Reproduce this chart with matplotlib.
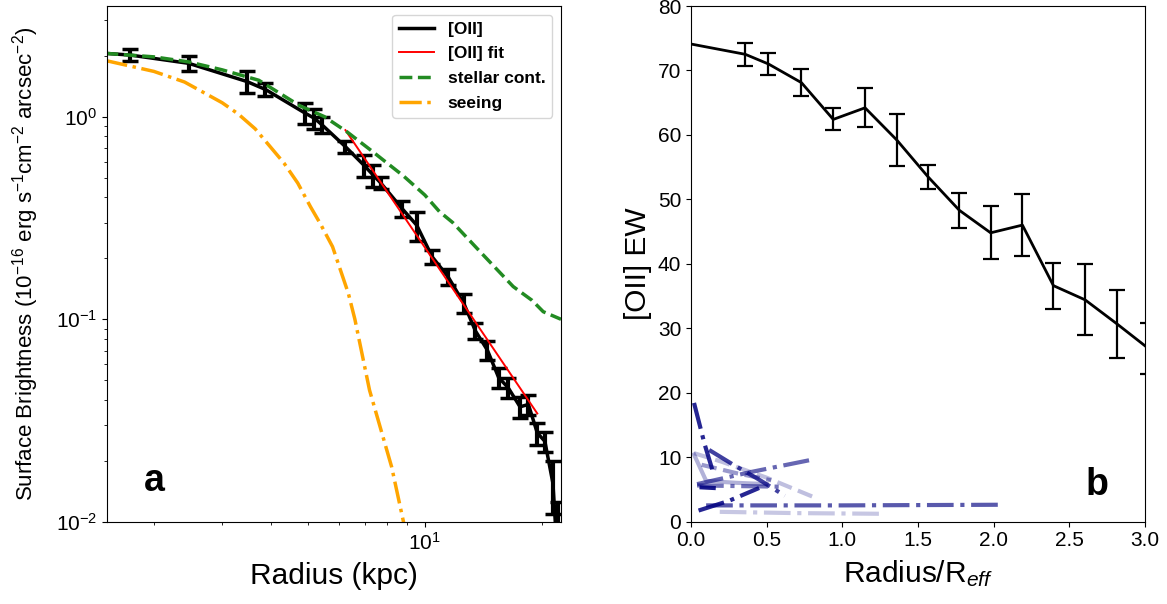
import matplotlib
matplotlib.use("Agg")
import matplotlib.pyplot as plt

plt.rcParams['font.family'] = ['Liberation Sans', 'DejaVu Sans']
plt.rcParams['mathtext.fontset'] = 'custom'
plt.rcParams['mathtext.rm'] = 'Liberation Sans'
plt.rcParams['mathtext.it'] = 'Liberation Sans:italic'
plt.rcParams['mathtext.bf'] = 'Liberation Sans:bold'

# ---------------- Panel a data ----------------
oii_r = [1.74, 2.46, 3.47, 3.88, 4.91, 5.19, 5.43, 6.24, 6.96, 7.36, 7.69, 8.73, 9.53,
         10.45, 11.48, 12.6, 13.5, 14.5, 15.5, 16.4, 17.6, 18.5, 19.5, 20.4, 21.4, 22.0]
oii_v = [2.01, 1.83, 1.49, 1.36, 1.04, 0.98, 0.91, 0.71, 0.576, 0.514, 0.471, 0.352, 0.291,
         0.203, 0.162, 0.120, 0.0877, 0.0704, 0.0516, 0.046, 0.037, 0.038, 0.0275, 0.025, 0.0155, 0.0065]
oii_err = [0.14, 0.15, 0.19, 0.10, 0.12, 0.11, 0.08, 0.05, 0.073, 0.065, 0.033, 0.032, 0.047,
           0.016, 0.015, 0.0125, 0.008, 0.0073, 0.0056, 0.0053, 0.0043, 0.0044, 0.0034, 0.0029, 0.0045, 0.006]
oii_line_r = [1.5] + oii_r
oii_line_v = [2.05] + oii_v

fit_r = [6.24, 19.5]
fit_v = [0.857, 0.0343]

stellar_r = [1.5, 2.0, 2.46, 3.0, 3.73, 4.76, 5.5, 6.3, 7.2, 8.8, 10.0, 10.9, 11.8, 13.9, 16.9, 18.9, 20.2, 22.45]
stellar_v = [2.05, 1.97, 1.86, 1.70, 1.51, 1.13, 1.0, 0.84, 0.69, 0.51, 0.41, 0.34, 0.30, 0.215, 0.145, 0.124, 0.109, 0.100]

seeing_r = [1.5, 2.0, 2.4, 3.0, 3.3, 3.65, 4.33, 4.7, 5.07, 5.37, 5.78, 6.35, 6.6, 7.2, 8.21, 8.81, 9.0]
seeing_v = [1.89, 1.67, 1.48, 1.17, 1.03, 0.87, 0.59, 0.47, 0.359, 0.297, 0.228, 0.134, 0.100, 0.0447, 0.0187, 0.0100, 0.008]

# ---------------- Panel b data ----------------
ew_r = [0.359, 0.512, 0.730, 0.940, 1.150, 1.360, 1.566, 1.773, 1.980, 2.190, 2.395, 2.604, 2.813, 3.02]
ew_v = [72.5, 71.0, 68.1, 62.4, 64.2, 59.2, 53.5, 48.3, 44.8, 46.0, 36.6, 34.4, 30.7, 26.9]
ew_err = [1.75, 1.7, 2.1, 1.7, 3.0, 4.1, 1.9, 2.7, 4.1, 4.8, 3.55, 5.5, 5.3, 3.95]
ew_line_r = [0.0] + ew_r
ew_line_v = [74.1] + ew_v

comp_r = [
    [0.02, 0.09, 0.14],
    [0.12, 0.28, 0.45, 0.62],
    [0.02, 0.2, 0.5, 0.83],
    [0.02, 0.1, 0.3, 0.5],
    [0.04, 0.4, 0.78],
    [0.05, 0.25, 0.45],
    [0.1, 1.0, 2.05],
    [0.19, 0.7, 1.25],
    [0.07, 0.15],
    [0.04, 0.3, 0.6],
    [0.07, 0.3, 0.53],
]
comp_v = [
    [18.4, 12.0, 8.1],
    [11.1, 8.8, 6.5, 4.0],
    [10.6, 9.3, 6.8, 3.6],
    [10.4, 6.3, 6.0, 5.8],
    [5.8, 7.7, 9.5],
    [1.7, 3.2, 5.2],
    [2.5, 2.5, 2.6],
    [1.5, 1.3, 1.2],
    [5.3, 5.2],
    [5.6, 5.5, 5.4],
    [8.8, 7.5, 6.4],
]
comp_alpha = [0.85, 0.75, 0.25, 0.3, 0.6, 0.85, 0.65, 0.22, 0.9, 0.55, 0.4]
comp_ls = ['-.', '-.', '--', '-', '-.', '-.', '-.', '-.', '-', '-.', '--']

W, H = 1167, 604
fig = plt.figure(figsize=(W / 100, H / 100), dpi=100)

# ---- panel a ----
ax1 = fig.add_axes([107 / W, (H - 522) / H, 454 / W, 516 / H])
ax1.plot(oii_line_r, oii_line_v, color='black', lw=2.5, label='[OII]')
ax1.errorbar(oii_r, oii_v, yerr=oii_err, fmt='none', ecolor='black',
             elinewidth=3, capsize=6, capthick=2.5)
ax1.plot(fit_r, fit_v, color='red', lw=1.4, label='[OII] fit')
ax1.plot(stellar_r, stellar_v, color='forestgreen', lw=2.5, ls='--', label='stellar cont.')
ax1.plot(seeing_r, seeing_v, color='orange', lw=2.5, ls='-.', label='seeing')
ax1.set_xscale('log')
ax1.set_yscale('log')
ax1.set_xlim(1.514, 22.45)
ax1.set_ylim(0.01, 3.51)
ax1.tick_params(labelsize=15)
ax1.set_xlabel('Radius (kpc)', fontsize=21.5, labelpad=6)
ax1.set_ylabel(r'Surface Brightness (10$^{-16}$ erg s$^{-1}$cm$^{-2}$ arcsec$^{-2}$)',
               fontsize=16, labelpad=11)
ax1.legend(loc='upper right', prop={'weight': 'bold', 'size': 12.5}, labelspacing=0.55)
ax1.text(0.105, 0.08, 'a', transform=ax1.transAxes, fontsize=27, fontweight='bold',
         ha='center', va='center')

# ---- panel b ----
ax2 = fig.add_axes([691 / W, (H - 521.5) / H, 454 / W, 515.5 / H])
for rr, vv, al, ls in zip(comp_r, comp_v, comp_alpha, comp_ls):
    ax2.plot(rr, vv, color='navy', alpha=al, ls=ls, lw=3)
ax2.plot(ew_line_r, ew_line_v, color='black', lw=2)
ax2.errorbar(ew_r, ew_v, yerr=ew_err, fmt='none', ecolor='black',
             elinewidth=1.6, capsize=6, capthick=1.6)
ax2.set_xlim(0, 3)
ax2.set_ylim(0, 80)
ax2.set_xticks([0.0, 0.5, 1.0, 1.5, 2.0, 2.5, 3.0])
ax2.set_yticks(range(0, 81, 10))
ax2.tick_params(labelsize=15)
ax2.set_xlabel(r'Radius/R$_{eff}$', fontsize=21.5, labelpad=6)
ax2.set_ylabel('[OII] EW', fontsize=21.5)
ax2.text(0.894, 0.07, 'b', transform=ax2.transAxes, fontsize=27, fontweight='bold',
         ha='center', va='center')

fig.savefig('out.png', dpi=100)
